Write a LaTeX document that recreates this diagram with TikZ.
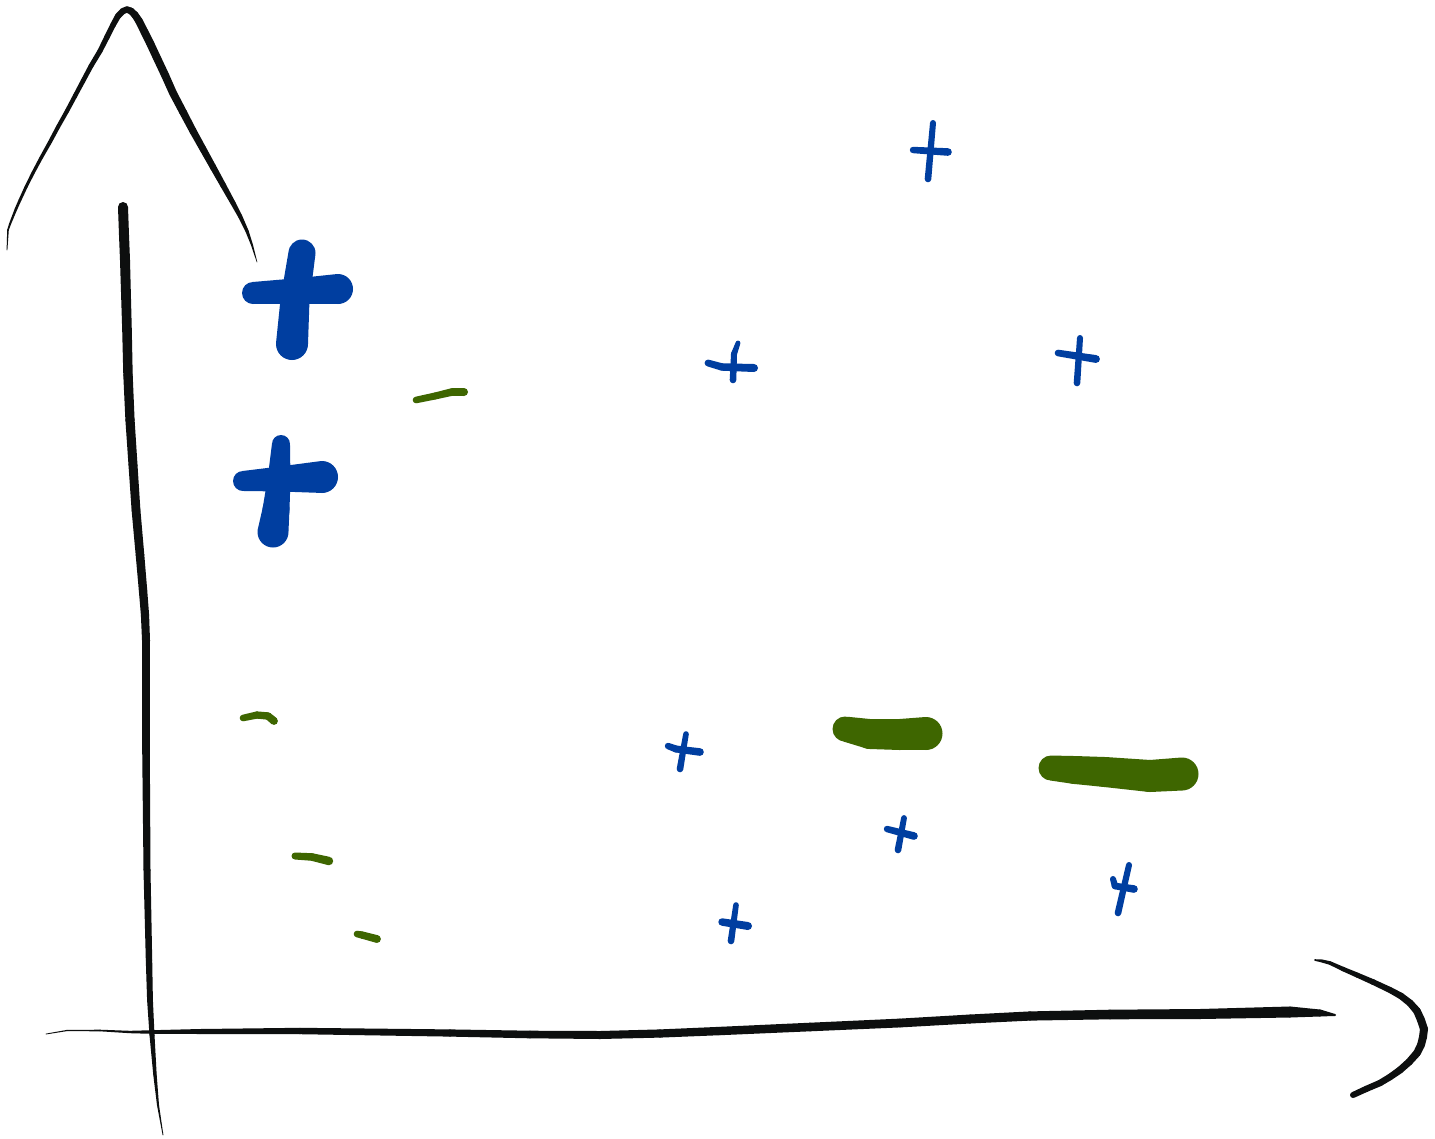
\documentclass[tikz,border=0pt]{standalone}
\usetikzlibrary{calc}
\definecolor{ink}{RGB}{13,15,15}
\definecolor{pblue}{RGB}{0,62,160}
\definecolor{mgreen}{RGB}{62,102,0}
% tapered segment: from point #2 with radius #3 to point #4 with radius #5
\newcommand\tp[5][]{%
  \fill[#1] (#2) circle[radius=#3pt] (#4) circle[radius=#5pt]
    ($(#2)!#3pt!90:(#4)$) -- ($(#2)!#3pt!-90:(#4)$) --
    ($(#4)!#5pt!90:(#2)$) -- ($(#4)!#5pt!-90:(#2)$) -- cycle;}
% tapered stroke through a list x/y/radius
\newcommand\hstroke[2]{%
  \foreach \qa/\qb/\qc [count=\qi,
      remember=\qa as \pa (initially 0),
      remember=\qb as \pb (initially 0),
      remember=\qc as \pc (initially 0)] in {#2}{%
    \ifnum\qi>1 \tp[#1]{\pa,\pb}{\pc}{\qa,\qb}{\qc}\fi}}
\begin{document}
\begin{tikzpicture}[x=1pt,y=-1pt]
\fill[white] (0,0) rectangle (1435,1138);
\useasboundingbox (0,0) rectangle (1435,1138);

% ---- axes ----
% y-axis arrowhead
\hstroke{ink}{7/250/0.4, 7.5/240/0.6, 8/230/0.8, 10/224/1, 12/219/1.1, 16/209/1.3,
  20/200/1.4, 26/187/1.5, 33/173/1.6, 41/158/1.7, 50/142/1.9, 58/127/2, 67/111/2.1,
  75/96/2.2, 83/81/2.3, 91/66/2.4, 100/51/2.5, 107/37/2.7, 113/25/2.8, 118/16/3,
  123/11/3.1, 127/9.5/3.2, 131/11/3.4, 135/15/3.6, 139/21/3.8, 143/29/3.9, 150/43/4,
  157/58/4, 165/75/4, 173/93/3.9, 183/112/3.8, 193/131/3.6, 203/149/3.4,
  213/167/3.2, 223/185/2.9, 233/203/2.5, 240/216/2.1, 247/231/1.6, 252/245/1, 257/262/0.3}
% y-axis
\hstroke{ink}{123/207/5, 124/235/5, 125/260/5, 126/295/4.9, 127/330/4.8, 128/375/4.7,
  130/420/4.6, 133/465/4.5, 136/510/4.4, 140/555/4.3, 143/590/4.2, 145/615/4.1,
  146/640/4, 146/750/3.8, 147/870/3.5, 149/960/3.2, 150/1000/2.9, 152/1035/2.5,
  155/1075/1.7, 158/1105/1, 163/1135/0.4}
% x-axis
\hstroke{ink}{46/1034/0.4, 67/1030.5/0.6, 100/1030.5/0.8, 130/1032/1.2, 152/1032/1.8,
  200/1031.5/2.5, 300/1031/3.2, 450/1033/3.6, 530/1034.5/3.8, 600/1035/4,
  660/1033.5/4.1, 720/1031/4.2, 810/1027/4.3, 900/1023/4.4, 970/1019/4.5,
  1030/1016/4.6, 1110/1014.5/4.8, 1200/1014/5, 1290/1012/5.5, 1320/1013/3.5, 1335/1015/1}
% x-axis arrowhead
\hstroke{ink}{1315/960/0.8, 1322/961/1.5, 1330/963/1.8, 1343/969/2.2, 1357/975/2.5,
  1373/982/2.8, 1390/990/3, 1401/996/3.3, 1410/1003/3.5, 1417/1011/3.8, 1421/1020/4,
  1424/1029/4, 1423/1037/4, 1421/1045/3.9, 1417/1053/3.8, 1409/1062/3.6,
  1400/1070/3.5, 1390/1077/3.3, 1380/1083/3.2, 1366/1089/3.1, 1353/1095/3}

% ---- big plus signs ----
\hstroke{pblue}{302/253/13.5, 295/300/14.5, 292/344/16}
\hstroke{pblue}{253/293/11, 300/291/13, 338/289/15}
\hstroke{pblue}{281/444/9, 279/480/11.5, 276/510/13.5, 273/532/15.5}
\hstroke{pblue}{243/481/10, 280/479/12.5, 322/477/16}

% ---- small plus signs ----
\hstroke{pblue}{933/123/3, 928/179/3.3}
\hstroke{pblue}{913/150/3.2, 948/152/3.8}
\hstroke{pblue}{738/343/2.4, 734/354/3, 733/380/3.3}
\hstroke{pblue}{708/363/3.4, 722/367/3.7, 754/368/4}
\hstroke{pblue}{1080/338/3, 1077/383/3.3}
\hstroke{pblue}{1058/353/3.3, 1096/359/3.9}
\hstroke{pblue}{686/734/2.8, 680/769/3.3}
\hstroke{pblue}{668/746/3.2, 676/749/3.5, 700/752/3.8}
\hstroke{pblue}{904/818/2.9, 898/850/3.3}
\hstroke{pblue}{887/829/3.2, 914/836/3.8}
\hstroke{pblue}{736/905/2.8, 731/941/3.3}
\hstroke{pblue}{722/922/3.7, 748/926/4}
\hstroke{pblue}{1129/865/3, 1118/913/3.3}
\hstroke{pblue}{1113/879/3, 1115/886/3.3, 1134/889/3.8}

% ---- small minus signs ----
\hstroke{mgreen}{416/400/3.3, 435/396/3.5, 452/392/3.8, 464/392/4}
\hstroke{mgreen}{243/718/3.3, 257/715/3.6, 268/716/3.7, 274/721/3.9}
\hstroke{mgreen}{295/856/3.5, 312/857/3.8, 329/861/4.2}
\hstroke{mgreen}{357/934/3.3, 362/935/3.6, 377/939/3.9}

% ---- big minus signs ----
\hstroke{mgreen}{845/729/12.5, 870/734/15, 900/734.5/15.5, 926/733.5/16.5}
\hstroke{mgreen}{1051/768/12.5, 1075/770/14, 1105/772/15, 1150/776/16, 1182/774/16.5}
\end{tikzpicture}
\end{document}
